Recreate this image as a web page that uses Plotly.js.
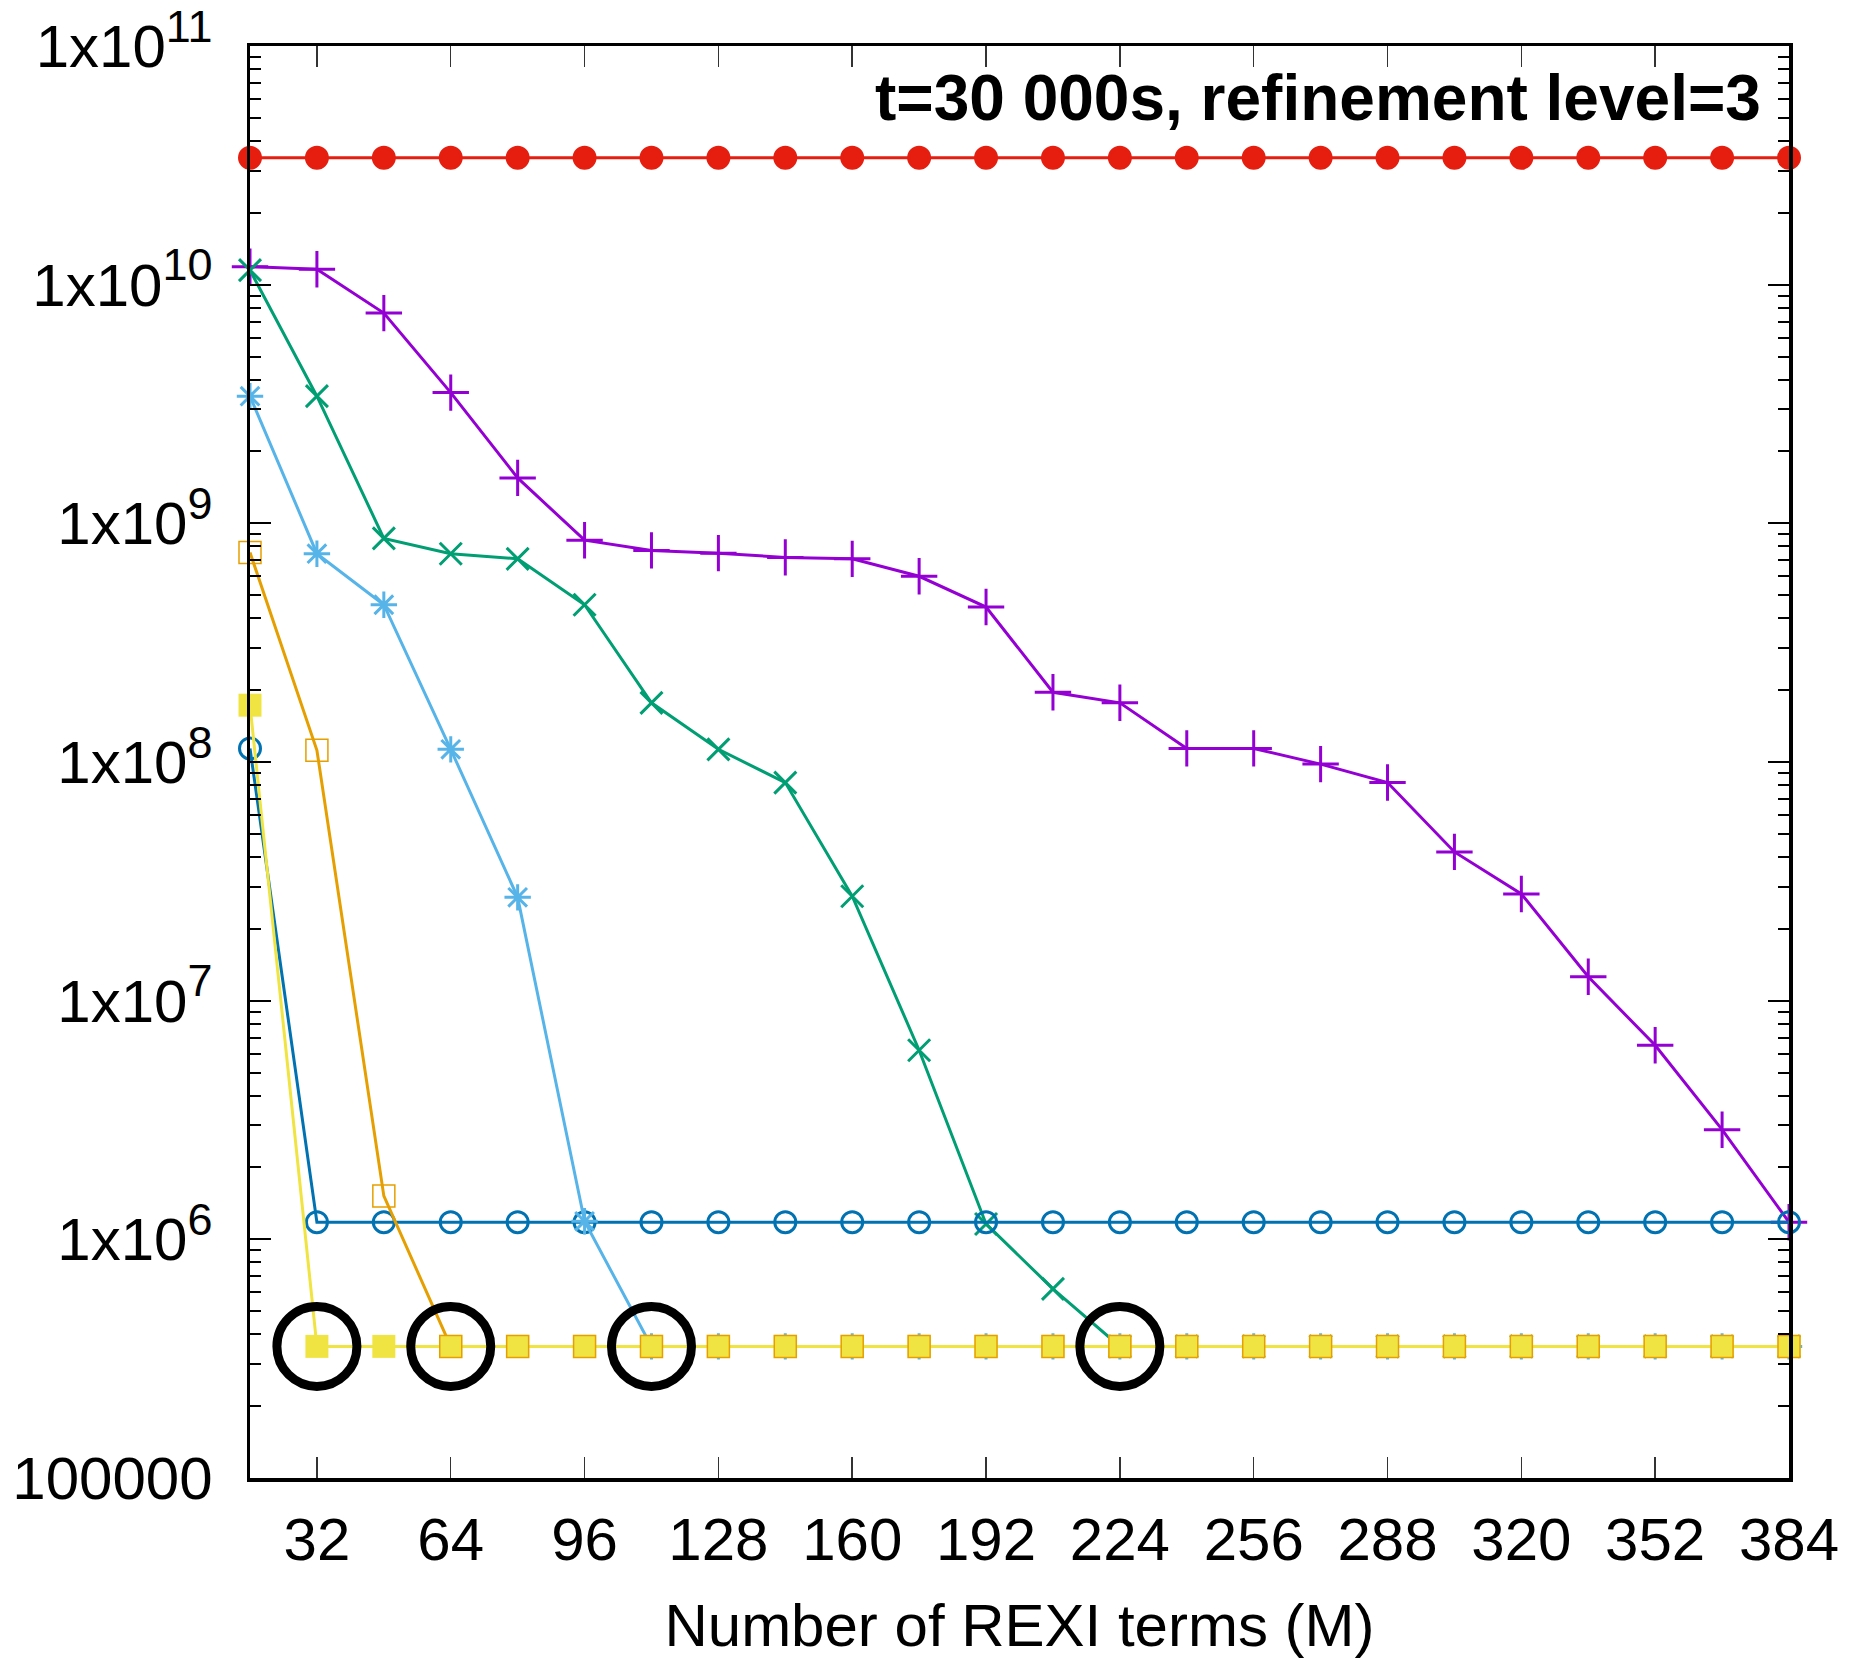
<!DOCTYPE html>
<html>
<head>
<meta charset="utf-8">
<script src="https://cdn.plot.ly/plotly-3.0.1.min.js"></script>
<style>html,body{margin:0;padding:0;background:#fff;}#chart{width:1859px;height:1659px;}</style>
</head>
<body>
<div id="chart"></div>
<script>
// ---- data ----
const terms = [16,32,48,64,80,96,112,128,144,160,176,192,208,224,240,256,272,288,304,320,336,352,368,384];

const errRed = [3.4e10,3.4e10,3.4e10,3.4e10,3.4e10,3.4e10,3.4e10,3.4e10,3.4e10,3.4e10,3.4e10,3.4e10,
                3.4e10,3.4e10,3.4e10,3.4e10,3.4e10,3.4e10,3.4e10,3.4e10,3.4e10,3.4e10,3.4e10,3.4e10];
const errPurple = [1.19e10,1.16e10,7.6e9,3.53e9,1.55e9,8.5e8,7.7e8,7.5e8,7.2e8,7.1e8,6.0e8,4.46e8,
                   1.96e8,1.77e8,1.14e8,1.14e8,9.8e7,8.2e7,4.2e7,2.8e7,1.26e7,6.5e6,2.88e6,1.18e6];
const errGreen = [1.15e10,3.41e9,8.65e8,7.46e8,7.1e8,4.56e8,1.77e8,1.13e8,8.2e7,2.74e7,6.2e6,1.16e6,
                  6.2e5,3.56e5,3.56e5,3.56e5,3.56e5,3.56e5,3.56e5,3.56e5,3.56e5,3.56e5,3.56e5,3.56e5];
const errLightBlue = [3.41e9,7.46e8,4.56e8,1.13e8,2.71e7,1.19e6,3.56e5,3.56e5,3.56e5,3.56e5,3.56e5,3.56e5,
                      3.56e5,3.56e5,3.56e5,3.56e5,3.56e5,3.56e5,3.56e5,3.56e5,3.56e5,3.56e5,3.56e5,3.56e5];
const errOrange = [7.55e8,1.12e8,1.52e6,3.56e5,3.56e5,3.56e5,3.56e5,3.56e5,3.56e5,3.56e5,3.56e5,3.56e5,
                   3.56e5,3.56e5,3.56e5,3.56e5,3.56e5,3.56e5,3.56e5,3.56e5,3.56e5,3.56e5,3.56e5,3.56e5];
const errBlue = [1.14e8,1.18e6,1.18e6,1.18e6,1.18e6,1.18e6,1.18e6,1.18e6,1.18e6,1.18e6,1.18e6,1.18e6,
                 1.18e6,1.18e6,1.18e6,1.18e6,1.18e6,1.18e6,1.18e6,1.18e6,1.18e6,1.18e6,1.18e6,1.18e6];
const errYellow = [1.73e8,3.56e5,3.56e5,3.56e5,3.56e5,3.56e5,3.56e5,3.56e5,3.56e5,3.56e5,3.56e5,3.56e5,
                   3.56e5,3.56e5,3.56e5,3.56e5,3.56e5,3.56e5,3.56e5,3.56e5,3.56e5,3.56e5,3.56e5,3.56e5];

// converged points highlighted by black circles
const circledTerms = [32,64,112,224];
const circledErr = [3.56e5,3.56e5,3.56e5,3.56e5];

const xTickVals = [32,64,96,128,160,192,224,256,288,320,352,384];
const xTickText = ["32","64","96","128","160","192","224","256","288","320","352","384"];
const yTickVals = [1e5,1e6,1e7,1e8,1e9,1e10,1e11];
const yTickMant = ["100000","1x10","1x10","1x10","1x10","1x10","1x10"];
const yTickExp = ["","6","7","8","9","10","11"];
const titleText = "t=30 000s, refinement level=3";
const xTitle = "Number of REXI terms (M)";

const yTickText = yTickMant.map((m, i) => yTickExp[i] ? m + '<sup><span style="font-size:45px">' + yTickExp[i] + '</span></sup>' : m);

// ---- minor tick positions (2..9 within each decade) ----
const yMinor = [];
for (let e = 5; e < 11; e++) for (let m = 2; m <= 9; m++) yMinor.push(m * Math.pow(10, e));

const LW = 3;
function tr(y, color, symbol, size, mode, extra) {
  return Object.assign({
    x: terms, y: y, type: 'scatter', mode: mode || 'lines+markers', cliponaxis: false,
    line: {color: color, width: LW},
    marker: {color: color, symbol: symbol, size: size, line: {color: color, width: 3}},
    hoverinfo: 'skip', showlegend: false
  }, extra || {});
}

const data = [
  tr(errRed, '#E51E10', 'circle', 21),
  tr(errPurple, '#9400D3', 'cross-thin-open', 26),
  tr(errGreen, '#009E73', 'x-thin-open', 22),
  tr(errBlue, '#0072B2', 'circle-open', 21),
  tr(errLightBlue, '#56B4E9', 'asterisk-open', 22),
  tr(errOrange, '#E69F00', 'square-open', 21, 'lines'),
  tr(errYellow, '#F0E442', 'square', 23, 'lines+markers', {marker:{color:'#F0E442', symbol:'square', size:23, line:{width:0}}}),
  tr(errOrange, '#E69F00', 'square-open', 22, 'markers', {marker:{color:'#E69F00', symbol:'square-open', size:22, line:{color:'#E69F00', width:1.5}}}),
  {x: circledTerms, y: circledErr, type:'scatter', mode:'markers', cliponaxis:false,
   marker:{symbol:'circle-open', size:80, color:'black', line:{color:'black', width:9}},
   hoverinfo:'skip', showlegend:false}
];

const fontFam = '"Liberation Sans", Arial, Helvetica, sans-serif';
const FS = 60;
const layout = {
  width: 1859, height: 1659,
  margin: {l: 250, r: 70, t: 46, b: 181},
  paper_bgcolor: 'white', plot_bgcolor: 'white',
  showlegend: false,
  font: {family: fontFam, size: FS, color: 'black'},
  xaxis: {
    type: 'linear', range: [16, 384],
    tickmode: 'array', tickvals: xTickVals, ticktext: xTickText,
    ticks: 'inside', ticklen: 21, tickwidth: 1.5, tickcolor: '#333',
    showline: true, linecolor: 'black', linewidth: 3.5, mirror: 'allticks',
    showgrid: false, zeroline: false,
    ticklabelstandoff: 6, ticklabeloverflow: 'allow',
    tickfont: {family: fontFam, size: FS, color: 'black'},
    title: {text: xTitle, font: {family: fontFam, size: FS, color: 'black'}, standoff: 62}
  },
  yaxis: {
    type: 'log', range: [5, 11],
    tickmode: 'array', tickvals: yTickVals, ticktext: yTickText,
    ticks: 'inside', ticklen: 21, tickwidth: 2, tickcolor: 'black',
    minor: {tickmode: 'array', tickvals: yMinor, ticks: 'inside', ticklen: 11, tickwidth: 2, tickcolor: 'black', showgrid: false},
    showline: true, linecolor: 'black', linewidth: 3.5, mirror: 'allticks',
    showgrid: false, zeroline: false,
    ticklabelstandoff: 22, ticklabeloverflow: 'allow',
    tickfont: {family: fontFam, size: FS, color: 'black'}
  },
  annotations: [{
    xref: 'paper', yref: 'paper', x: 0.983, y: 0.9637, xanchor: 'right', yanchor: 'middle',
    text: '<b>' + titleText + '</b>', showarrow: false,
    font: {family: fontFam, size: 64, color: 'black'}
  }]
};

Plotly.newPlot('chart', data, layout, {displayModeBar: false, staticPlot: true});
</script>
</body>
</html>
